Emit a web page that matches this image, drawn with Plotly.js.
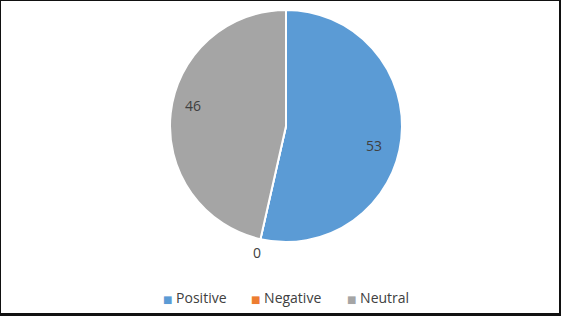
<!DOCTYPE html>
<html><head><meta charset="utf-8">
<script src="https://cdn.plot.ly/plotly-3.0.1.min.js"></script>
<style>
html,body{margin:0;padding:0;background:#fff;}
#frame{position:absolute;left:0;top:0;width:561px;height:316px;box-sizing:border-box;border-left:1px solid #111;border-top:1px solid #111;border-right:2px solid #111;border-bottom:3px solid #111;overflow:hidden;}
#chart{position:absolute;left:-1px;top:-1px;width:561px;height:316px;}
</style></head>
<body><div id="frame"><div id="chart"></div></div>
<script>
const categories = ["Positive", "Negative", "Neutral"];
const values = [53, 0, 46];
const colors = ["#5B9BD5", "#ED7D31", "#A5A5A5"];
const labelRadius = [0.78, 1.12, 0.82];   // label distance as fraction of radius
const labelAngleOffset = [6.4, 0, 6.3];   // degrees, clockwise

const W = 561, H = 316;
const cx = 286, cy = 126, R = 116;
const FONT = "Open Sans, Liberation Sans, sans-serif";

const total = values.reduce((a, b) => a + b, 0);
const annotations = [];
let cum = 0;
values.forEach((v, i) => {
  const mid = (cum + v / 2) / total * 2 * Math.PI + labelAngleOffset[i] * Math.PI / 180;
  cum += v;
  const d = labelRadius[i] * R;
  const px = cx + Math.sin(mid) * d;
  const py = cy - Math.cos(mid) * d;
  annotations.push({
    xref: "paper", yref: "paper", x: px / W, y: 1 - py / H,
    xanchor: "center", yanchor: "middle", showarrow: false,
    text: String(v), font: {family: FONT, size: 14, color: "#404040"}
  });
});

// custom legend
const legendX = [161, 249, 345];
categories.forEach((c, i) => {
  annotations.push({
    xref: "paper", yref: "paper", x: legendX[i] / W, y: 1 - 297 / H,
    xanchor: "left", yanchor: "middle", showarrow: false,
    text: '<span style="color:' + colors[i] + ';font-size:10px;font-family:DejaVu Sans">■</span> ' + c,
    font: {family: FONT, size: 14, color: "#404040"}
  });
});

Plotly.newPlot("chart", [{
  type: "pie",
  labels: categories,
  values: values,
  sort: false,
  direction: "clockwise",
  rotation: 0,
  textinfo: "none",
  domain: {x: [(cx - R) / W, (cx + R) / W], y: [1 - (cy + R) / H, 1 - (cy - R) / H]},
  marker: {colors: colors, line: {color: "#ffffff", width: 2}},
  hoverinfo: "label+value"
}], {
  width: W, height: H,
  margin: {l: 0, r: 0, t: 0, b: 0},
  paper_bgcolor: "#ffffff",
  showlegend: false,
  annotations: annotations,
  font: {family: FONT, color: "#404040"}
}, {displayModeBar: false, staticPlot: true});
</script></body></html>
